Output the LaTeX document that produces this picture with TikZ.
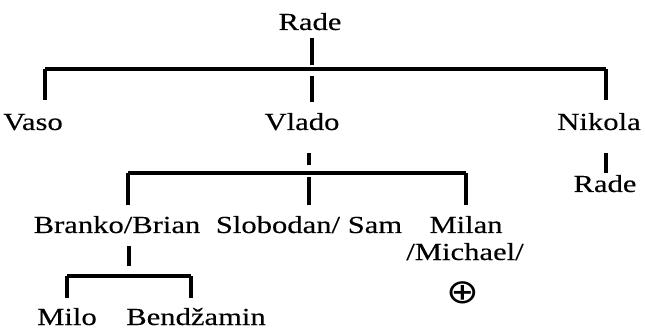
\documentclass[tikz,border=0pt]{standalone}
\usepackage{fontspec}
\setmainfont{Liberation Serif}[FakeBold=0.3, FakeStretch=1.25]
\newfontfamily\symfont{DejaVu Sans}[FakeStretch=1.15]
\usepackage{amssymb,amsmath}
\usepackage{tikz}

\begin{document}
\begin{tikzpicture}[x=1pt, y=-1pt]
  \tikzstyle{person} = [inner sep=0pt, anchor=base, text height=16pt, text depth=5pt, font=\fontsize{24.5}{28}\selectfont]
  \tikzstyle{link} = [line width=3.2pt]
  \tikzstyle{drop} = [link, shorten >=12pt]
  \useasboundingbox (0,0) rectangle (645,331);
  \node (rade) [person] at (310,30) {Rade};
  \node (vaso) [person] at (33,130) {Vaso};
  \node (vlado) [person] at (302,130) {Vlado};
  \node (nikola) [person] at (599,130) {Nikola};
  \node (rade2) [person] at (605,192) {Rade};
  \node (branko) [person] at (117,233) {Branko/Brian};
  \node (slobodan) [person] at (309,233) {Slobodan/ Sam};
  \node (milan) [person] at (466,233) {Milan};
  \node (michael) [person] at (465,260) {/Michael/};
  \node (dead) [person, font=\symfont\fontsize{34}{36}\selectfont] at (463,303) {⊕};
  \node (milo) [person] at (67,325) {Milo};
  \node (bendzamin) [person] at (196,325) {Bendžamin};
  \coordinate (top-l) at (45,69);
  \coordinate (top-m) at (312,69);
  \coordinate (top-r) at (606,69);
  \coordinate (mid-l) at (128,173);
  \coordinate (mid-m) at (309,173);
  \coordinate (mid-r) at (466,173);
  \coordinate (low-l) at (67,276);
  \coordinate (low-m) at (129,276);
  \coordinate (low-r) at (191,276);
  \draw [link] (top-l) -- (top-r);
  \draw [link, shorten <=3pt, shorten >=4pt] (rade.south -| top-m) -- (top-m);
  \draw [link, shorten >=14pt] (top-l) -- (vaso.north -| top-l);
  \draw [link, shorten <=7pt, shorten >=12pt] (top-m) -- (vlado.north -| top-m);
  \draw [link, shorten >=14pt] (top-r) -- (nikola.north -| top-r);
  \draw [link] (mid-l) -- (mid-r);
  \draw [link, shorten <=18pt, shorten >=8pt] (vlado.south -| mid-m) -- (mid-m);
  \draw [drop] (mid-l) -- (branko.north -| mid-l);
  \draw [link, shorten <=4pt, shorten >=12pt] (mid-m) -- (slobodan.north -| mid-m);
  \draw [drop] (mid-r) -- (milan.north -| mid-r);
  \draw [link, shorten <=18pt, shorten >=3pt] (nikola.south -| top-r) -- (rade2.north -| top-r);
  \draw [link] (low-l) -- (low-r);
  \draw [link, shorten <=8pt, shorten >=10pt] (branko.south -| low-m) -- (low-m);
  \draw [link, shorten >=11pt] (low-l) -- (milo.north -| low-l);
  \draw [link, shorten >=11pt] (low-r) -- (bendzamin.north -| low-r);
\end{tikzpicture}
\end{document}
